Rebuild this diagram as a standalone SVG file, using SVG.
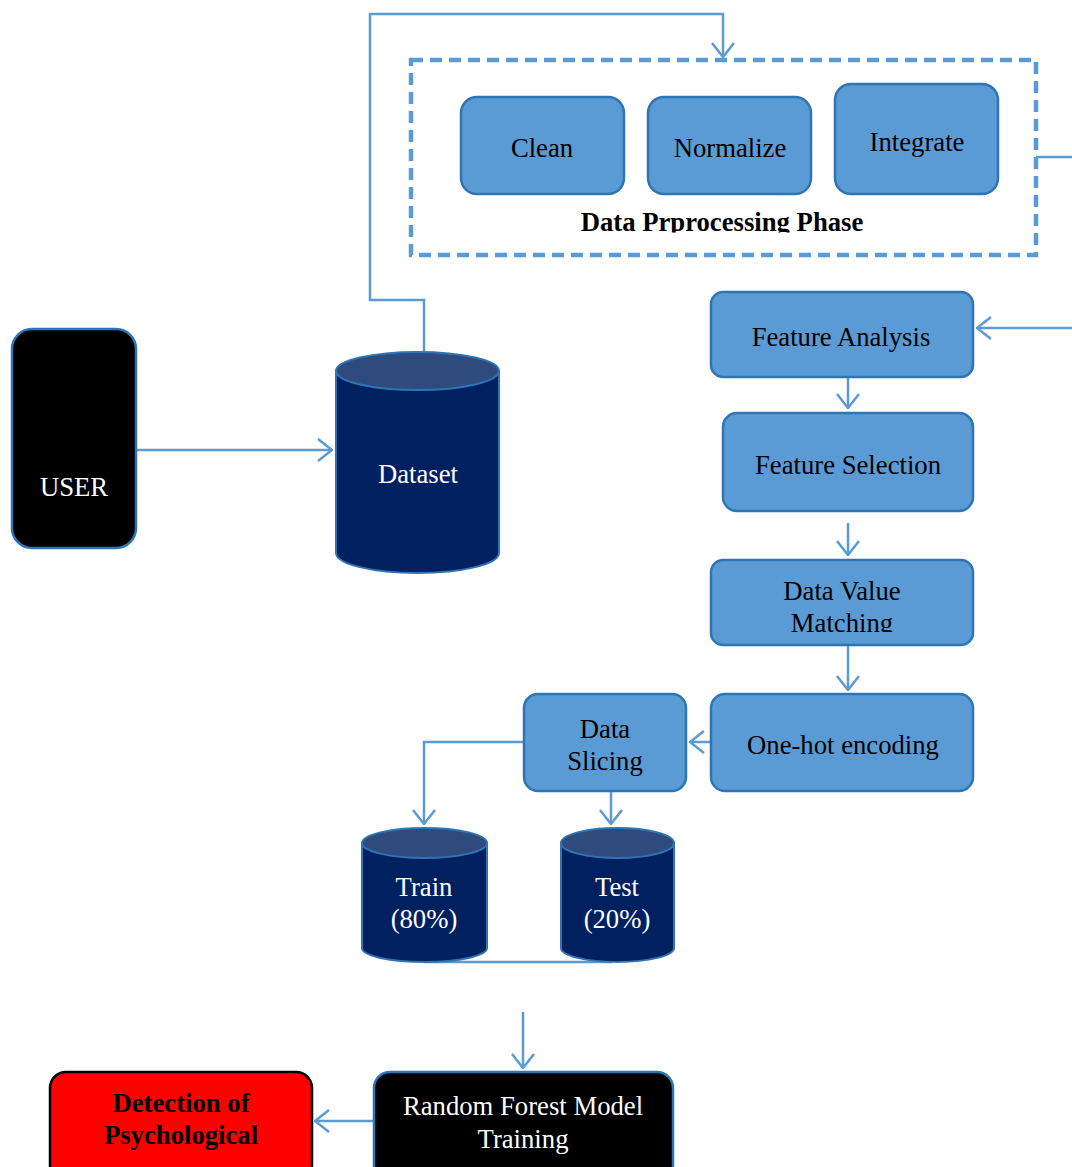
<svg xmlns="http://www.w3.org/2000/svg" width="1072" height="1167" viewBox="0 0 1072 1167">
<style>
.box{fill:#5B9BD5;stroke:#2E75B6;stroke-width:2.5}
.lbl{font-family:"Liberation Serif","Times New Roman",serif;font-size:26.7px;text-anchor:middle;fill:#000}
.wl{font-family:"Liberation Serif","Times New Roman",serif;font-size:26.7px;text-anchor:middle;fill:#fff}
.bl{font-family:"Liberation Serif","Times New Roman",serif;font-size:26.7px;font-weight:bold;text-anchor:middle;fill:#000}
.conn{fill:none;stroke:#5B9BD5;stroke-width:2.5}
.cylb{fill:#002060;stroke:#2E75B6;stroke-width:2}
.cylt{fill:#2F4B7E;stroke:#2E75B6;stroke-width:2}
</style>
<defs>
<marker id="ah" viewBox="0 0 16 24" refX="15" refY="12" markerWidth="16" markerHeight="24" markerUnits="userSpaceOnUse" orient="auto">
<path d="M1,1 L15,12 L1,23" fill="none" stroke="#5B9BD5" stroke-width="2.5"/>
</marker>
<clipPath id="clipPhase"><rect x="400" y="200" width="650" height="32.5"/></clipPath>
<clipPath id="clipDVM"><rect x="700" y="560" width="280" height="72"/></clipPath>
</defs>

<g id="connectors">
<path class="conn" d="M424,352 V300 H370 V14 H723 V57" marker-end="url(#ah)"/>
<path class="conn" d="M1036,157 H1085 V328 H977" marker-end="url(#ah)"/>
<path class="conn" d="M124,450 H332" marker-end="url(#ah)"/>
<path class="conn" d="M848,378 V408" marker-end="url(#ah)"/>
<path class="conn" d="M848,523 V555" marker-end="url(#ah)"/>
<path class="conn" d="M848,646 V690" marker-end="url(#ah)"/>
<path class="conn" d="M711,742 H690" marker-end="url(#ah)"/>
<path class="conn" d="M524,742 H424 V824" marker-end="url(#ah)"/>
<path class="conn" d="M611,792 V824" marker-end="url(#ah)"/>
<path class="conn" d="M424,962 H612"/>
<path class="conn" d="M523,1012 V1068" marker-end="url(#ah)"/>
<path class="conn" d="M374,1121 H315" marker-end="url(#ah)"/>
</g>

<g id="preprocessing-phase">
<rect x="411" y="60" width="625" height="195" fill="none" stroke="#5B9BD5" stroke-width="4.5" stroke-dasharray="12,7"/>
<text class="bl" x="722" y="231" clip-path="url(#clipPhase)">Data Prprocessing Phase</text>
</g>

<g id="clean">
<rect class="box" x="461" y="97" width="163" height="97" rx="16"/>
<text class="lbl" x="542" y="157">Clean</text>
</g>
<g id="normalize">
<rect class="box" x="648" y="97" width="163" height="97" rx="16"/>
<text class="lbl" x="730" y="157">Normalize</text>
</g>
<g id="integrate">
<rect class="box" x="835" y="84" width="163" height="110" rx="16"/>
<text class="lbl" x="917" y="151">Integrate</text>
</g>

<g id="user">
<rect x="12" y="329" width="124" height="219" rx="20" fill="#000" stroke="#2E75B6" stroke-width="2.5"/>
<text class="wl" x="74" y="496">USER</text>
</g>

<g id="dataset">
<path class="cylb" d="M336,371 V553 A81.5,20 0 0 0 499,553 V371 Z"/>
<ellipse class="cylt" cx="417.5" cy="371" rx="81.5" ry="19"/>
<text class="wl" x="418" y="483">Dataset</text>
</g>

<g id="feature-analysis">
<rect class="box" x="711" y="292" width="262" height="85" rx="12"/>
<text class="lbl" x="841" y="346">Feature Analysis</text>
</g>
<g id="feature-selection">
<rect class="box" x="723" y="413" width="250" height="98" rx="14"/>
<text class="lbl" x="848" y="474">Feature Selection</text>
</g>
<g id="data-value-matching">
<rect class="box" x="711" y="560" width="262" height="85" rx="12"/>
<g clip-path="url(#clipDVM)">
<text class="lbl" x="842" y="600">Data Value</text>
<text class="lbl" x="842" y="632">Matching</text>
</g>
</g>
<g id="one-hot-encoding">
<rect class="box" x="711" y="694" width="262" height="97" rx="14"/>
<text class="lbl" x="843" y="754">One-hot encoding</text>
</g>
<g id="data-slicing">
<rect class="box" x="524" y="694" width="162" height="97" rx="14"/>
<text class="lbl" x="605" y="738">Data</text>
<text class="lbl" x="605" y="770">Slicing</text>
</g>

<g id="train">
<path class="cylb" d="M362,843 V948 A62.5,14 0 0 0 487,948 V843 Z"/>
<ellipse class="cylt" cx="424.5" cy="843" rx="62.5" ry="15"/>
<text class="wl" x="424" y="896">Train</text>
<text class="wl" x="424" y="928">(80%)</text>
</g>
<g id="test">
<path class="cylb" d="M561,843 V948 A56.5,14 0 0 0 674,948 V843 Z"/>
<ellipse class="cylt" cx="617.5" cy="843" rx="56.5" ry="15"/>
<text class="wl" x="617" y="896">Test</text>
<text class="wl" x="617" y="928">(20%)</text>
</g>

<g id="random-forest">
<rect x="374" y="1072" width="299" height="110" rx="16" fill="#000" stroke="#2E75B6" stroke-width="2.5"/>
<text class="wl" x="523" y="1115">Random Forest Model</text>
<text class="wl" x="523" y="1148">Training</text>
</g>

<g id="detection">
<rect x="50" y="1072" width="262" height="110" rx="16" fill="#FF0000" stroke="#000" stroke-width="2.5"/>
<text class="bl" x="181" y="1112">Detection of</text>
<text class="bl" x="181" y="1144">Psychological</text>
</g>
</svg>
